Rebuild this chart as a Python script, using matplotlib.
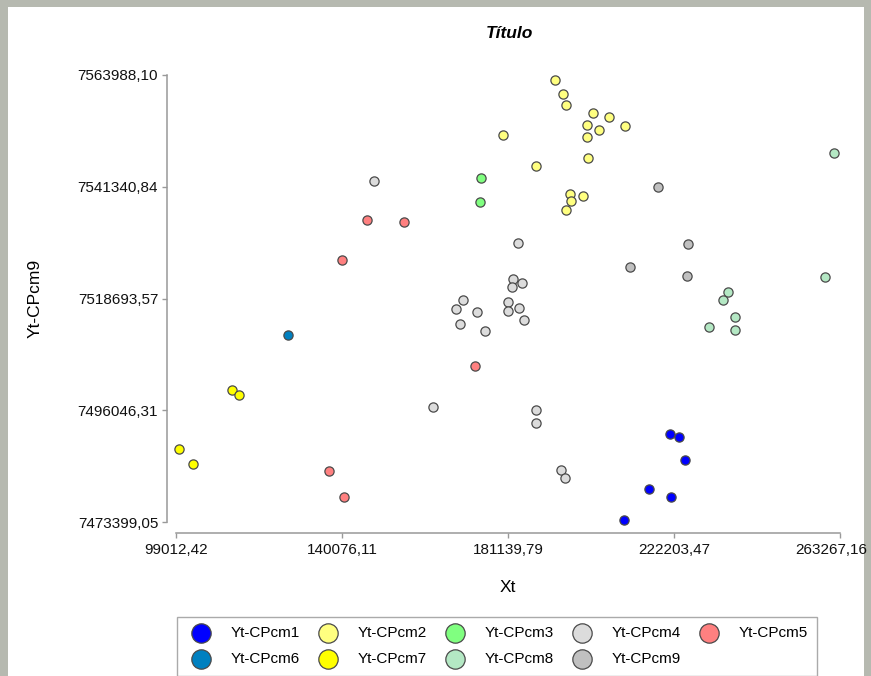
import matplotlib
matplotlib.use("Agg")
import matplotlib.pyplot as plt
from matplotlib.patches import Rectangle
from matplotlib.ticker import FixedLocator, FuncFormatter
from matplotlib.transforms import ScaledTranslation

plt.rcParams["font.family"] = ["Liberation Sans", "DejaVu Sans"]

# tick values shown on the axes
x_ticks = [99012.42, 140076.11, 181139.79, 222203.47, 263267.16]
y_ticks = [7473399.05, 7496046.31, 7518693.57, 7541340.84, 7563988.10]

# points per group
cpcm1_x = [221213, 223439, 224923, 216018, 221460, 209834]
cpcm1_y = [7491233, 7490625, 7485964, 7480087, 7478466, 7473804]

cpcm2_x = [192765, 194744, 195486, 202165, 206123, 200681, 203650, 210081,
           200681, 179902, 200928, 188065, 196476, 199692, 196723, 195486]
cpcm2_y = [7562975, 7560137, 7557908, 7556287, 7555476, 7553855, 7552842, 7553652,
           7551423, 7551828, 7547167, 7545546, 7539871, 7539466, 7538453, 7536629]

cpcm3_x = [174460, 174212]
cpcm3_y = [7543114, 7538250]

cpcm4_x = [147991, 183613, 182376, 184602, 182128, 170007, 168276, 173470, 181139, 181139,
           183860, 185097, 169265, 175449, 162586, 188065, 188065, 194249, 195239]
cpcm4_y = [7542506, 7529941, 7522645, 7521835, 7521024, 7518390, 7516566, 7515958, 7517984, 7516160,
           7516768, 7514336, 7513526, 7512107, 7496705, 7496097, 7493462, 7483937, 7482316]

cpcm5_x = [146260, 155412, 140075, 172976, 136860, 140570]
cpcm5_y = [7534602, 7534197, 7526496, 7505014, 7483735, 7478466]

cpcm6_x = [126717]
cpcm6_y = [7511296]

cpcm7_x = [112865, 114596, 99754, 103217]
cpcm7_y = [7500150, 7499137, 7488193, 7485153]

cpcm8_x = [261781, 259555, 235560, 234323, 237292, 230860, 237292]
cpcm8_y = [7548181, 7523051, 7520011, 7518390, 7514944, 7512918, 7512310]

cpcm9_x = [218244, 225665, 211318, 225418]
cpcm9_y = [7541290, 7529738, 7525077, 7523253]

labels = ["Yt-CPcm1", "Yt-CPcm2", "Yt-CPcm3", "Yt-CPcm4", "Yt-CPcm5",
          "Yt-CPcm6", "Yt-CPcm7", "Yt-CPcm8", "Yt-CPcm9"]
colors = ["#0000ff", "#ffff80", "#80ff80", "#dcdcdc", "#ff8080",
          "#0080c0", "#ffff00", "#b4e8c4", "#c0c0c0"]
groups = [(cpcm1_x, cpcm1_y), (cpcm2_x, cpcm2_y), (cpcm3_x, cpcm3_y),
          (cpcm4_x, cpcm4_y), (cpcm5_x, cpcm5_y), (cpcm6_x, cpcm6_y),
          (cpcm7_x, cpcm7_y), (cpcm8_x, cpcm8_y), (cpcm9_x, cpcm9_y)]

W, H = 871, 676
fig = plt.figure(figsize=(W / 100, H / 100), dpi=100, facecolor="#b6b9b0")
# white panel over the textured background
fig.patches.append(Rectangle((8 / W, 0), (864 - 8) / W, 1 - 7 / H,
                             transform=fig.transFigure, facecolor="white",
                             edgecolor="none", zorder=-5))

ax = fig.add_axes([176 / W, 1 - 522 / H, (840 - 176) / W, (522 - 75) / H])
ax.set_facecolor("none")
ax.set_zorder(2)

handles = []
for (xs, ys), lab, col in zip(groups, labels, colors):
    h = ax.scatter(xs, ys, s=44, c=col, edgecolors="#4a4a4a", linewidths=0.9,
                   label=lab, clip_on=False, zorder=3)
    handles.append(h)

ax.set_xlim(x_ticks[0], x_ticks[-1])
ax.set_ylim(y_ticks[0], y_ticks[-1])

fmt = FuncFormatter(lambda v, p: f"{v:.2f}".replace(".", ","))
ax.xaxis.set_major_locator(FixedLocator(x_ticks))
ax.yaxis.set_major_locator(FixedLocator(y_ticks))
ax.xaxis.set_major_formatter(fmt)
ax.yaxis.set_major_formatter(fmt)

for side in ["top", "right"]:
    ax.spines[side].set_visible(False)
ax.spines["left"].set_position(("outward", 6.5))
ax.spines["bottom"].set_position(("outward", 7.9))
for side in ["left", "bottom"]:
    ax.spines[side].set_color("#999999")
    ax.spines[side].set_linewidth(1.1)

ax.tick_params(axis="both", direction="out", length=3.8, width=1.0,
               color="#999999", labelsize=11, labelcolor="#111111")
ax.tick_params(axis="y", pad=2.5)
ax.tick_params(axis="x", pad=3.5)

# last x label is pulled left so it stays inside the picture
fig.canvas.draw()
last = ax.get_xticklabels()[-1]
last.set_transform(last.get_transform() + ScaledTranslation(-0.09, 0, fig.dpi_scale_trans))

fig.text(509 / W, 1 - 33 / H, "Título", ha="center", va="center",
         fontsize=12.5, fontweight="bold", fontstyle="italic")
fig.text(508 / W, 1 - 587 / H, "Xt", ha="center", va="center", fontsize=12.5)
fig.text(35 / W, 1 - 298 / H, "Yt-CPcm9", ha="center", va="center",
         rotation=90, fontsize=12.5)

# legend fills column by column, so interleave to get rows 1-5 / 6-9
order = [0, 5, 1, 6, 2, 7, 3, 8, 4]
leg = fig.legend([handles[i] for i in order], [labels[i] for i in order],
                 loc="upper left", bbox_to_anchor=(177 / W, 1 - 617 / H),
                 ncol=5, fontsize=11, markerscale=2.1, frameon=True,
                 fancybox=False, edgecolor="#aaaaaa", borderpad=0.6,
                 borderaxespad=0, handletextpad=0.9, columnspacing=0.88,
                 labelspacing=0.8, handlelength=2.0)
leg.get_frame().set_linewidth(1.0)
leg.get_frame().set_alpha(1)
leg.set_zorder(3)

fig.savefig("out.png", dpi=100, facecolor=fig.get_facecolor())
